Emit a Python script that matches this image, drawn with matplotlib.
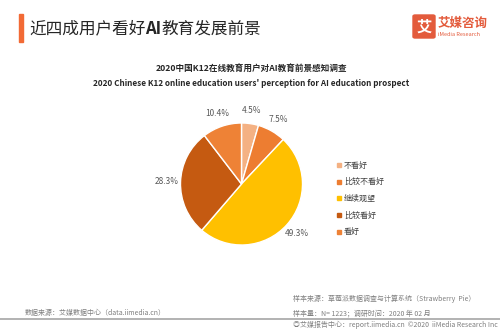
import matplotlib
matplotlib.use("Agg")
import matplotlib.pyplot as plt
from matplotlib.patches import Rectangle, FancyBboxPatch

plt.rcParams['font.family'] = ['Noto Sans CJK SC', 'DejaVu Sans']

categories = ['不看好', '比较不看好', '继续观望', '比较看好', '看好']
values = [4.5, 7.5, 49.3, 28.3, 10.4]
colors = ['#F4B183', '#ED7D31', '#FFC000', '#C55A11', '#EE8236']

title_parts = ['近四成用户看好', 'AI', '教育发展前景']
subtitle_cn = '2020中国K12在线教育用户对AI教育前景感知调查'
subtitle_en = "2020 Chinese K12 online education users' perception for AI education prospect"
source_left = '数据来源：艾媒数据中心（data.iimedia.cn）'
source_right = ['样本来源：草莓派数据调查与计算系统（Strawberry  Pie）',
                '样本量：N= 1223；调研时间：2020 年 02 月',
                '艾媒报告中心：report.iimedia.cn  ©2020  iiMedia Research Inc']

W, H = 500, 332
fig = plt.figure(figsize=(W / 100, H / 100), dpi=100)
fig.patch.set_facecolor('white')

def fx(x):
    return x / W

def fy(y):
    return 1 - y / H

# header bar
fig.patches.append(Rectangle((fx(19), fy(42)), 4 / W, 28 / H, transform=fig.transFigure,
                             color='#F26A35', zorder=2))
# title in parts
renderer = fig.canvas.get_renderer()
x = 29
for part, wt in zip(title_parts, ['normal', 'bold', 'normal']):
    t = fig.text(fx(x), fy(29), part, fontsize=12, fontweight=wt, color='#262626',
                 ha='left', va='center')
    bb = t.get_window_extent(renderer=renderer)
    x += bb.width

# logo
fig.patches.append(FancyBboxPatch((fx(413), fy(38)), 22 / W, 23 / H,
                                  boxstyle='round,pad=0,rounding_size=0.004',
                                  transform=fig.transFigure, color='#E35B3C', zorder=2))
fig.text(fx(424), fy(26.5), '艾', fontsize=11, fontweight='bold', color='white',
         ha='center', va='center')
fig.text(fx(438), fy(23), '艾媒咨询', fontsize=9, fontweight='bold', color='#E35B3C',
         ha='left', va='center')
fig.text(fx(438), fy(34), 'iMedia Research', fontsize=4, color='#E35B3C',
         ha='left', va='center')

# subtitles
fig.text(fx(252), fy(68), subtitle_cn, fontsize=6.2, fontweight='bold', color='#262626',
         ha='center', va='center')
fig.text(fx(251), fy(84), subtitle_en, fontsize=5.9, fontweight='semibold', color='#262626',
         ha='center', va='center')

# pie
cx, cy, r = 241.5, 184, 61
ax = fig.add_axes([fx(cx - r), fy(cy + r), 2 * r / W, 2 * r / H])
wedges, texts = ax.pie(values, colors=colors, startangle=90, counterclock=False,
                       labels=[f'{v:.1f}%' for v in values], labeldistance=1.22,
                       wedgeprops=dict(edgecolor='white', linewidth=1.0),
                       textprops=dict(fontsize=6, color='#595959'))
for t in texts:
    t.set_ha('center')
    t.set_va('center')
ax.set_xlim(-1, 1)
ax.set_ylim(-1, 1)
ax.set_aspect('equal')
ax.axis('off')

# legend
ly0 = 165
for i, (c, col) in enumerate(zip(categories, colors)):
    y = ly0 + i * 16.7
    fig.patches.append(Rectangle((fx(337), fy(y + 2)), 4 / W, 4 / H, transform=fig.transFigure,
                                 color=col, zorder=2))
    fig.text(fx(344), fy(y), c, fontsize=5.8, color='#404040', ha='left', va='center')

# footer
fig.text(fx(25), fy(313), source_left, fontsize=5, color='#7F7F7F', ha='left', va='center')
fig.text(fx(293), fy(299), source_right[0], fontsize=5, color='#7F7F7F', ha='left', va='center')
fig.text(fx(293), fy(313), source_right[1], fontsize=5, color='#7F7F7F', ha='left', va='center')
fig.text(fx(293), fy(325), '◎' + source_right[2], fontsize=5, color='#7F7F7F',
         ha='left', va='center', family=['Noto Sans CJK SC', 'DejaVu Sans'])
fig.lines.append(plt.Line2D([0, 1], [fy(318.5), fy(318.5)], transform=fig.transFigure,
                            color='#A6A6A6', linewidth=1.2))

fig.savefig('out.png', dpi=100, facecolor='white')
